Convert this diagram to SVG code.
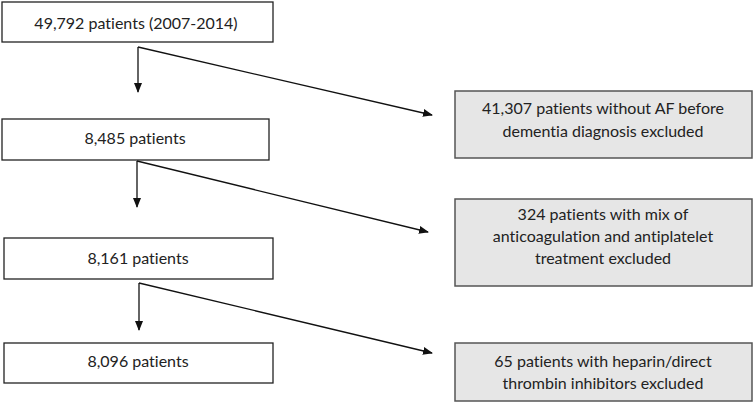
<svg xmlns="http://www.w3.org/2000/svg" width="754" height="403" viewBox="0 0 754 403">
<defs>
<marker id="ah" markerWidth="10" markerHeight="10" refX="9" refY="5" orient="auto" markerUnits="userSpaceOnUse">
<path d="M0,1 L10,5 L0,9 Z" fill="#111"/>
</marker>
<style>
.main rect{fill:#fff;stroke:#222;stroke-width:1.3}
.excl rect{fill:#e6e6e6;stroke:#555;stroke-width:1.5}
text{font-family:Lato,"Open Sans",sans-serif;font-size:16px;fill:#222;text-anchor:middle;dominant-baseline:central;font-variant-ligatures:none}
.conn path{fill:none;stroke:#111;stroke-width:1.3}
</style>
</defs>
<rect width="754" height="403" fill="#fff"/>
<g id="n1" class="main"><rect x="2" y="2" width="271" height="40"/><text x="136" y="22">49,792 patients (2007-2014)</text></g>
<g id="n2" class="main"><rect x="2" y="119" width="267" height="41"/><text x="135" y="137">8,485 patients</text></g>
<g id="n3" class="main"><rect x="4" y="238" width="269" height="41"/><text x="138" y="257">8,161 patients</text></g>
<g id="n4" class="main"><rect x="4" y="343" width="269" height="40"/><text x="138" y="360">8,096 patients</text></g>
<g id="e1" class="excl"><rect x="455" y="91" width="297" height="67"/><text x="603" y="107">41,307 patients without AF before</text><text x="603" y="130">dementia diagnosis excluded</text></g>
<g id="e2" class="excl"><rect x="455" y="199" width="297" height="87"/><text x="603" y="213">324 patients with mix of</text><text x="603" y="235">anticoagulation and antiplatelet</text><text x="603" y="257">treatment excluded</text></g>
<g id="e3" class="excl"><rect x="455" y="343" width="297" height="58"/><text x="603" y="360">65 patients with heparin/direct</text><text x="603" y="382">thrombin inhibitors excluded</text></g>
<g id="connectors" class="conn">
<path d="M138,47 L138,92" marker-end="url(#ah)"/>
<path d="M138,47 L432,115" marker-end="url(#ah)"/>
<path d="M137,161 L137,207" marker-end="url(#ah)"/>
<path d="M137,161 L428,232" marker-end="url(#ah)"/>
<path d="M139,283 L139,330" marker-end="url(#ah)"/>
<path d="M139,283 L432,353" marker-end="url(#ah)"/>
</g>
</svg>
